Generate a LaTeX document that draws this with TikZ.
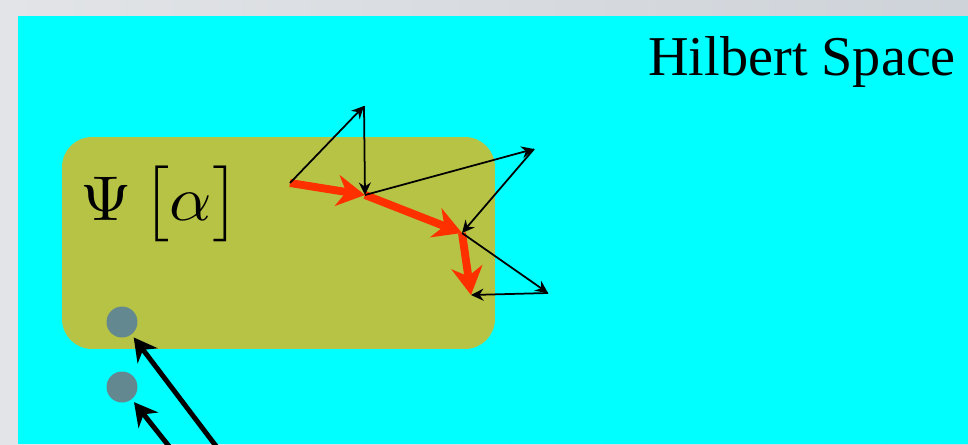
\documentclass[tikz,border=0pt]{standalone}
\usepackage{fontspec}
\newfontfamily\hilbertfont{Liberation Serif}
\usetikzlibrary{arrows.meta}

\definecolor{framelt}{RGB}{226,228,231}
\definecolor{framedk}{RGB}{206,211,217}
\definecolor{space}{RGB}{0,255,255}
\definecolor{olivebox}{RGB}{183,195,68}
\definecolor{dotgray}{RGB}{100,136,144}
\definecolor{walkred}{RGB}{255,48,0}

\begin{document}
\begin{tikzpicture}[
  x = 0.02cm, y = -0.02cm,
  region/.style = {fill=olivebox, rounded corners=0.6cm, inner sep=0pt,
                   minimum width=8.66cm, minimum height=4.24cm},
  config/.style = {circle, fill=dotgray, inner sep=0pt, minimum size=0.62cm},
  title/.style  = {font=\hilbertfont\fontsize{32}{36}\selectfont,
                   anchor=base west, inner sep=0pt},
  wave/.style   = {xscale=3.75, yscale=3.6, anchor=base west, inner sep=0pt},
  kick/.style   = {-{Stealth[length=0.25cm, width=0.24cm]}, line width=1pt},
  flow/.style   = {-{Stealth[length=0.56cm, width=0.62cm]}, walkred,
                   line width=4.5pt},
  feed/.style   = {-{Stealth[length=0.46cm, width=0.5cm]}, line width=2.8pt,
                   shorten >=2pt},
]

% --- frame and space --------------------------------------------------
\clip (0,0) rectangle (968,444);
\shade[left color=framelt, right color=framedk] (0,0) rectangle (968,444);
\fill[space] (18,16) rectangle (968,444);

\node[title] (hs) at (648,75) {Hilbert Space};

% --- the state ---------------------------------------------------------
\node[region] (blob) at (278.5,243) {};
\node[wave] (psi) at (79,220) {$\Psi\mskip3mu\relax\big[\alpha\big]$};

\node[config] (c1) at (122,322) {};
\node[config] (c2) at (122,387) {};

% --- the walk ----------------------------------------------------------
\coordinate (p0) at (290,183);
\coordinate (p1) at (364,106);
\coordinate (p2) at (365,195);
\coordinate (p3) at (534,149);
\coordinate (p4) at (462,233);
\coordinate (p5) at (548,293);
\coordinate (p6) at (471,295);

\draw[flow] (p0) -- (p2);
\draw[flow] (p2) -- (p4);
\draw[flow] (p4) -- (p6);

\draw[kick] (p0) -- (p1);
\draw[kick] (p1) -- (p2);
\draw[kick] (p2) -- (p3);
\draw[kick] (p3) -- (p4);
\draw[kick] (p4) -- (p5);
\draw[kick] (p5) -- (p6);

% --- incoming ----------------------------------------------------------
\coordinate (in1) at (219,450);
\coordinate (in2) at (172,450);
\draw[feed] (in1) -- (c1);
\draw[feed] (in2) -- (c2);

\end{tikzpicture}
\end{document}
